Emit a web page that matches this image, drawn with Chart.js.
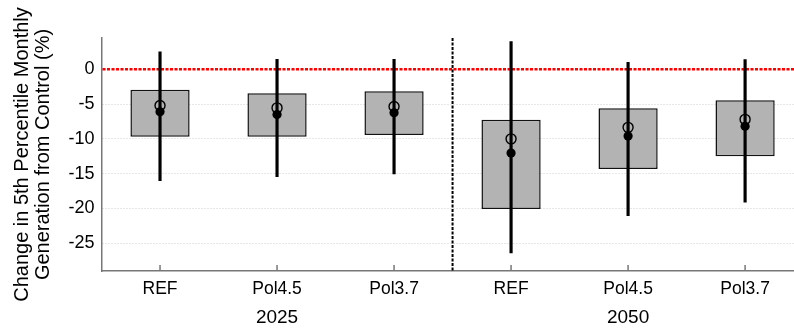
<!DOCTYPE html>
<html>
<head>
<meta charset="utf-8">
<script src="https://cdn.jsdelivr.net/npm/chart.js@4/dist/chart.umd.min.js"></script>
<style>
  html, body { margin: 0; padding: 0; overflow: hidden; background: #fff; }
  #wrap { width: 810px; height: 331px; }
</style>
</head>
<body>
<div id="wrap"><canvas id="c" width="810" height="331"></canvas></div>
<script>
// Scenarios, grouped by target year
const categories = ['REF', 'Pol4.5', 'Pol3.7', 'REF', 'Pol4.5', 'Pol3.7'];
const groupYears = ['2025', '2050'];
const groupSize = 3;

// Interquartile box (%)
const boxLow  = [-9.7, -9.7, -9.45, -20.1, -14.35, -12.5];
const boxHigh = [-2.95, -3.45, -3.15, -7.25, -5.6, -4.45];

// Full range whiskers (%)
const whiskerLow  = [-16.0, -15.45, -15.05, -26.4, -21.05, -19.1];
const whiskerHigh = [2.5, 1.45, 1.45, 4.0, 1.0, 1.4];

// Median (open) and mean (filled) markers (%)
const medianVals = [-5.2, -5.55, -5.35, -10.0, -8.35, -7.2];
const meanVals   = [-6.1, -6.5, -6.25, -12.05, -9.6, -8.2];

// Y axis tick values
const yTicks = [0, -5, -10, -15, -20, -25];

const FONT = 'Liberation Sans, Arial, Helvetica, sans-serif';

const guides = {
  id: 'guides',
  beforeDatasetsDraw(chart) {
    const { ctx, chartArea: a, scales: { x, y } } = chart;
    ctx.save();
    // zero reference line
    const y0 = y.getPixelForValue(0);
    ctx.strokeStyle = '#ff0000';
    ctx.lineWidth = 2.5;
    ctx.setLineDash([3, 1.5]);
    ctx.beginPath();
    ctx.moveTo(a.left + 1, y0);
    ctx.lineTo(a.right, y0);
    ctx.stroke();
    // divider between year groups
    for (let g = 1; g < groupYears.length; g++) {
      const xd = (x.getPixelForValue(g * groupSize - 1) + x.getPixelForValue(g * groupSize)) / 2;
      ctx.strokeStyle = '#000';
      ctx.lineWidth = 2;
      ctx.setLineDash([3, 1.5]);
      ctx.beginPath();
      ctx.moveTo(xd, a.top);
      ctx.lineTo(xd, a.bottom);
      ctx.stroke();
    }
    // inward tick marks on the category axis
    ctx.setLineDash([]);
    ctx.strokeStyle = '#777';
    ctx.lineWidth = 1.5;
    categories.forEach((c, i) => {
      const xt = x.getPixelForValue(i);
      ctx.beginPath();
      ctx.moveTo(xt, a.bottom);
      ctx.lineTo(xt, a.bottom - 6);
      ctx.stroke();
    });
    ctx.restore();
  },
  afterDraw(chart) {
    // year labels centred under each scenario group
    const { ctx, chartArea: a, scales: { x } } = chart;
    ctx.save();
    ctx.fillStyle = '#000';
    ctx.font = '19px ' + FONT;
    ctx.textAlign = 'center';
    ctx.textBaseline = 'middle';
    groupYears.forEach((yr, g) => {
      const first = x.getPixelForValue(g * groupSize);
      const last = x.getPixelForValue(g * groupSize + groupSize - 1);
      ctx.fillText(yr, (first + last) / 2, a.bottom + 47);
    });
    ctx.restore();
  }
};

new Chart(document.getElementById('c'), {
  data: {
    labels: categories,
    datasets: [
      {
        type: 'bar',
        data: boxLow.map((lo, i) => [lo, boxHigh[i]]),
        backgroundColor: '#b3b3b3',
        borderColor: '#111',
        borderWidth: 1.5,
        borderSkipped: false,
        grouped: false,
        barPercentage: 0.506,
        categoryPercentage: 1.0,
        order: 4
      },
      {
        type: 'bar',
        data: whiskerLow.map((lo, i) => [lo, whiskerHigh[i]]),
        backgroundColor: '#000',
        borderWidth: 0,
        grouped: false,
        barThickness: 2.5,
        order: 3
      },
      {
        type: 'line',
        data: medianVals,
        showLine: false,
        pointStyle: 'circle',
        pointRadius: 5,
        pointBorderWidth: 1.4,
        pointBorderColor: '#000',
        pointBackgroundColor: 'rgba(0,0,0,0)',
        order: 2
      },
      {
        type: 'line',
        data: meanVals,
        showLine: false,
        pointStyle: 'circle',
        pointRadius: 4.6,
        pointBorderWidth: 0,
        pointBackgroundColor: '#000',
        order: 1
      }
    ]
  },
  options: {
    responsive: false,
    devicePixelRatio: 1,
    animation: false,
    layout: { padding: { left: 10, top: 38, right: 0, bottom: 23 } },
    plugins: { legend: { display: false }, tooltip: { enabled: false } },
    scales: {
      x: {
        type: 'category',
        offset: true,
        grid: { display: false, drawTicks: false },
        border: { display: true, color: '#777', width: 1.5 },
        ticks: {
          color: '#000',
          padding: 8,
          autoSkip: false,
          maxRotation: 0,
          font: { family: FONT, size: 17.5 }
        }
      },
      y: {
        min: -29,
        max: 4.5,
        afterBuildTicks: s => { s.ticks = yTicks.map(v => ({ value: v })); },
        grid: { color: '#cfcfcf', lineWidth: 1, drawTicks: false },
        border: { display: true, color: '#777', width: 1.5, dash: [1, 2] },
        ticks: {
          color: '#000',
          padding: 7,
          font: { family: FONT, size: 18 }
        },
        title: {
          display: true,
          text: ['Change in 5th Percentile Monthly', 'Generation from Control (%)'],
          color: '#000',
          font: { family: FONT, size: 20, lineHeight: 1.05 },
          padding: { top: 2, bottom: 7.5 }
        }
      }
    }
  },
  plugins: [guides]
});
</script>
</body>
</html>
